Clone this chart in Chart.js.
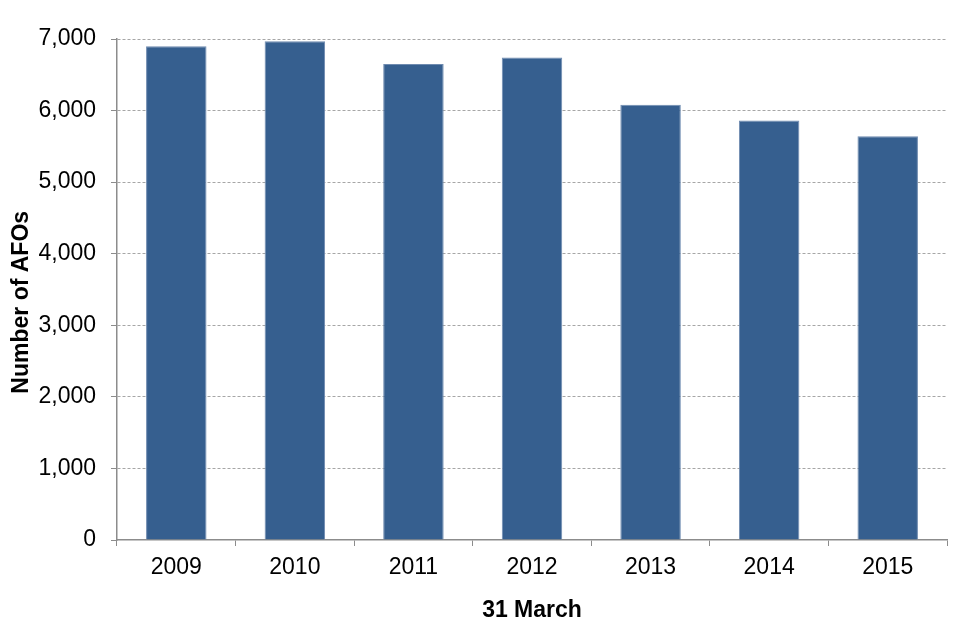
<!DOCTYPE html>
<html>
<head>
<meta charset="utf-8">
<script src="https://cdn.jsdelivr.net/npm/chart.js@4"></script>
<style>
html,body{margin:0;padding:0;background:#fff;}
#wrap{width:960px;height:640px;}
</style>
</head>
<body>
<div id="wrap"><canvas id="c" width="960" height="640"></canvas></div>
<script>
const categories = ['2009', '2010', '2011', '2012', '2013', '2014', '2015'];
const afoCounts = [6900, 6970, 6650, 6740, 6080, 5860, 5640];
const yTicks = [0, 1000, 2000, 3000, 4000, 5000, 6000, 7000];
const xTitle = '31 March';
const yTitle = 'Number of AFOs';

const FONT = "'Liberation Sans', Arial, sans-serif";

new Chart(document.getElementById('c'), {
  type: 'bar',
  data: {
    labels: categories,
    datasets: [{
      data: afoCounts,
      backgroundColor: '#365F8F',
      borderColor: '#6f8bb0',
      borderWidth: 1,
      barPercentage: 0.51,
      categoryPercentage: 1.0
    }]
  },
  options: {
    responsive: false,
    animation: false,
    devicePixelRatio: 1,
    layout: { padding: { top: 39, right: 13, bottom: 0, left: 0 } },
    plugins: { legend: { display: false }, tooltip: { enabled: false } },
    scales: {
      x: {
        offset: true,
        grid: { drawOnChartArea: false, drawTicks: true, tickLength: 6, color: '#8c8c8c', offset: true },
        border: { display: true, color: '#8c8c8c', width: 1.5 },
        ticks: { color: '#000', font: { family: FONT, size: 23 }, padding: 8 },
        title: { display: true, text: xTitle, color: '#000', font: { family: FONT, size: 23, weight: 'bold' }, padding: { top: 4, bottom: 16 } },
        afterFit: (s) => { s.height = 100; }
      },
      y: {
        min: 0,
        max: 7000,
        afterBuildTicks: (s) => { s.ticks = yTicks.map(v => ({ value: v })); },
        grid: {
          drawTicks: true,
          tickLength: 6,
          color: (ctx) => (ctx.tick && ctx.tick.value === 0) ? 'rgba(0,0,0,0)' : '#a6a6a6',
          tickColor: '#8c8c8c',
          tickBorderDash: [],
          lineWidth: 1
        },
        border: { display: true, color: '#8c8c8c', width: 1.5, dash: [3, 2] },
        ticks: {
          color: '#000',
          font: { family: FONT, size: 23 },
          padding: 15,
          callback: (v) => v.toLocaleString('en-US')
        },
        title: { display: true, text: yTitle + '    ', color: '#000', font: { family: FONT, size: 23, weight: 'bold' }, padding: { top: 8, bottom: 0 } },
        afterFit: (s) => { s.width = 117; }
      }
    }
  }
});
</script>
</body>
</html>
